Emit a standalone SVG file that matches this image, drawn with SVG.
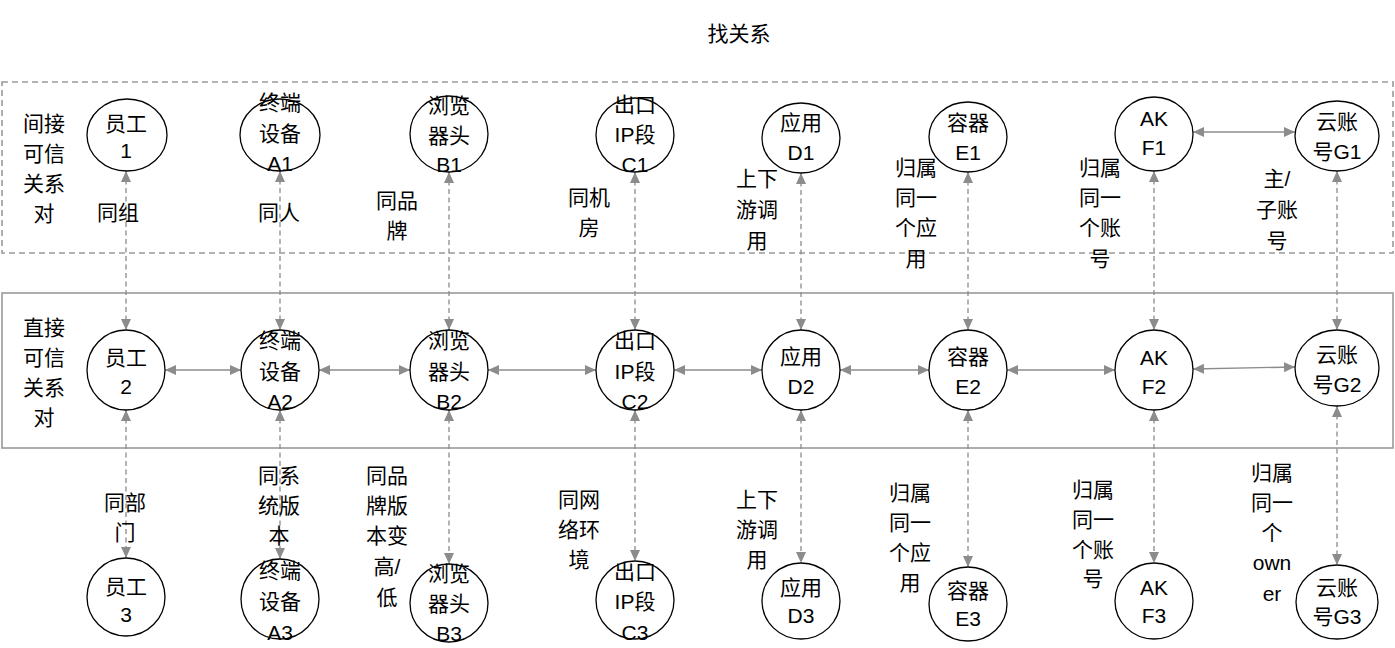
<svg xmlns="http://www.w3.org/2000/svg" width="1395" height="648" viewBox="0 0 1395 648">
<style>
text{font-family:"Liberation Sans","Noto Sans CJK SC",sans-serif;font-size:21px;fill:#000;text-anchor:middle;dominant-baseline:central}
.node ellipse{fill:#fff;stroke:#000;stroke-width:1.3}
.frame{fill:none;stroke:#9a9a9a;stroke-width:1.6}
.dash{stroke-dasharray:6 4}
.c{fill:none;stroke:#8c8c8c;stroke-width:1.3}
.v{stroke-dasharray:5 3.5}
</style>
<defs>
<marker id="ah" markerUnits="userSpaceOnUse" markerWidth="12" markerHeight="10" refX="11" refY="5" orient="auto-start-reverse">
<path d="M0,0 L11,5 L0,10 z" fill="#8c8c8c"/>
</marker>
</defs>
<rect width="1395" height="648" fill="#fff"/>
<text x="739" y="33">找关系</text>
<g id="frames">
<rect class="frame dash" x="2" y="82" width="1391" height="171"/>
<rect class="frame" x="2" y="293" width="1391" height="155"/>
</g>
<g id="group-labels">
<text x="44" y="123">间接</text><text x="44" y="153">可信</text><text x="44" y="183">关系</text><text x="44" y="213">对</text>
<text x="44" y="327">直接</text><text x="44" y="357">可信</text><text x="44" y="387">关系</text><text x="44" y="417">对</text>
</g>
<g id="connectors">
<g class="c v" marker-start="url(#ah)" marker-end="url(#ah)">
<line x1="126" y1="171" x2="126" y2="330"/>
<line x1="280" y1="171" x2="280" y2="330"/>
<line x1="449" y1="172" x2="449" y2="330"/>
<line x1="635" y1="172" x2="635" y2="330"/>
<line x1="801" y1="173" x2="801" y2="330"/>
<line x1="968" y1="172" x2="968" y2="330"/>
<line x1="1154" y1="171" x2="1154" y2="330"/>
<line x1="1337" y1="171" x2="1337" y2="330"/>
<line x1="126" y1="410" x2="126" y2="558"/>
<line x1="280" y1="410" x2="280" y2="559"/>
<line x1="449" y1="410" x2="449" y2="564"/>
<line x1="635" y1="410" x2="635" y2="561"/>
<line x1="801" y1="410" x2="801" y2="563"/>
<line x1="968" y1="410" x2="968" y2="567"/>
<line x1="1154" y1="410" x2="1154" y2="563"/>
<line x1="1337" y1="406" x2="1337" y2="565"/>
</g>
<g class="c" marker-start="url(#ah)" marker-end="url(#ah)">
<line x1="165" y1="370" x2="241" y2="370"/>
<line x1="319" y1="370" x2="410" y2="370"/>
<line x1="488" y1="370" x2="596" y2="370"/>
<line x1="674" y1="370" x2="762" y2="370"/>
<line x1="840" y1="370" x2="929" y2="370"/>
<line x1="1007" y1="370" x2="1115" y2="370"/>
<line x1="1193" y1="369" x2="1295" y2="367"/>
<line x1="1193" y1="132" x2="1295" y2="132"/>
</g>
</g>
<g id="edge-labels">
<text x="118" y="212">同组</text>
<text x="279" y="212">同人</text>
<text x="397" y="200">同品</text><text x="397" y="230">牌</text>
<text x="589" y="197">同机</text><text x="589" y="227">房</text>
<text x="757" y="178">上下</text><text x="757" y="209">游调</text><text x="757" y="240">用</text>
<text x="916" y="167">归属</text><text x="916" y="197">同一</text><text x="916" y="227">个应</text><text x="916" y="258">用</text>
<text x="1100" y="167">归属</text><text x="1100" y="197">同一</text><text x="1100" y="227">个账</text><text x="1100" y="258">号</text>
<text x="1277" y="178">主/</text><text x="1277" y="209">子账</text><text x="1277" y="240">号</text>
<text x="125" y="502">同部</text><text x="125" y="532">门</text>
<text x="279" y="475">同系</text><text x="279" y="505">统版</text><text x="279" y="535">本</text>
<text x="387" y="475">同品</text><text x="387" y="505">牌版</text><text x="387" y="535">本变</text><text x="387" y="566">高/</text><text x="387" y="597">低</text>
<text x="579" y="499">同网</text><text x="579" y="529">络环</text><text x="579" y="559">境</text>
<text x="757" y="499">上下</text><text x="757" y="529">游调</text><text x="757" y="559">用</text>
<text x="910" y="492">归属</text><text x="910" y="522">同一</text><text x="910" y="552">个应</text><text x="910" y="582">用</text>
<text x="1093" y="489">归属</text><text x="1093" y="519">同一</text><text x="1093" y="549">个账</text><text x="1093" y="578">号</text>
<text x="1272" y="472">归属</text><text x="1272" y="502">同一</text><text x="1272" y="532">个</text><text x="1272" y="562">own</text><text x="1272" y="593">er</text>
</g>
<g id="n-yg1" class="node"><ellipse cx="127" cy="135" rx="40" ry="36"/><text x="126" y="123">员工</text><text x="126" y="150">1</text></g>
<g id="n-a1" class="node"><ellipse cx="280" cy="135" rx="40" ry="36"/><text x="280" y="102">终端</text><text x="280" y="133">设备</text><text x="280" y="163">A1</text></g>
<g id="n-b1" class="node"><ellipse cx="449" cy="134" rx="39" ry="38"/><text x="449" y="105">浏览</text><text x="449" y="135">器头</text><text x="449" y="164">B1</text></g>
<g id="n-c1" class="node"><ellipse cx="635" cy="135" rx="39" ry="37"/><text x="635" y="104">出口</text><text x="635" y="134">IP段</text><text x="635" y="164">C1</text></g>
<g id="n-d1" class="node"><ellipse cx="801" cy="138" rx="39" ry="35"/><text x="801" y="122">应用</text><text x="801" y="152">D1</text></g>
<g id="n-e1" class="node"><ellipse cx="968" cy="137" rx="39" ry="35"/><text x="968" y="122">容器</text><text x="968" y="152">E1</text></g>
<g id="n-f1" class="node"><ellipse cx="1154" cy="134" rx="39" ry="37"/><text x="1154" y="118">AK</text><text x="1154" y="147">F1</text></g>
<g id="n-g1" class="node"><ellipse cx="1337" cy="136" rx="42" ry="35"/><text x="1337" y="121">云账</text><text x="1337" y="151">号G1</text></g>
<g id="n-yg2" class="node"><ellipse cx="126" cy="370" rx="39" ry="40"/><text x="126" y="357">员工</text><text x="126" y="386">2</text></g>
<g id="n-a2" class="node"><ellipse cx="280" cy="370" rx="39" ry="40"/><text x="280" y="340">终端</text><text x="280" y="371">设备</text><text x="280" y="401">A2</text></g>
<g id="n-b2" class="node"><ellipse cx="449" cy="370" rx="39" ry="40"/><text x="449" y="340">浏览</text><text x="449" y="371">器头</text><text x="449" y="401">B2</text></g>
<g id="n-c2" class="node"><ellipse cx="635" cy="370" rx="39" ry="40"/><text x="635" y="340">出口</text><text x="635" y="371">IP段</text><text x="635" y="401">C2</text></g>
<g id="n-d2" class="node"><ellipse cx="801" cy="370" rx="39" ry="40"/><text x="801" y="356">应用</text><text x="801" y="386">D2</text></g>
<g id="n-e2" class="node"><ellipse cx="968" cy="370" rx="39" ry="40"/><text x="968" y="356">容器</text><text x="968" y="386">E2</text></g>
<g id="n-f2" class="node"><ellipse cx="1154" cy="370" rx="39" ry="40"/><text x="1154" y="357">AK</text><text x="1154" y="386">F2</text></g>
<g id="n-g2" class="node"><ellipse cx="1337" cy="368" rx="42" ry="38"/><text x="1337" y="354">云账</text><text x="1337" y="384">号G2</text></g>
<g id="n-yg3" class="node"><ellipse cx="126" cy="597" rx="39" ry="39"/><text x="126" y="586">员工</text><text x="126" y="614">3</text></g>
<g id="n-a3" class="node"><ellipse cx="280" cy="599" rx="39" ry="40"/><text x="280" y="570">终端</text><text x="280" y="601">设备</text><text x="280" y="632">A3</text></g>
<g id="n-b3" class="node"><ellipse cx="449" cy="603" rx="39" ry="39"/><text x="449" y="573">浏览</text><text x="449" y="603">器头</text><text x="449" y="633">B3</text></g>
<g id="n-c3" class="node"><ellipse cx="635" cy="600" rx="39" ry="39"/><text x="635" y="571">出口</text><text x="635" y="601">IP段</text><text x="635" y="632">C3</text></g>
<g id="n-d3" class="node"><ellipse cx="801" cy="601" rx="39" ry="38"/><text x="801" y="587">应用</text><text x="801" y="615">D3</text></g>
<g id="n-e3" class="node"><ellipse cx="968" cy="604" rx="39" ry="37"/><text x="968" y="590">容器</text><text x="968" y="618">E3</text></g>
<g id="n-f3" class="node"><ellipse cx="1154" cy="601" rx="39" ry="38"/><text x="1154" y="587">AK</text><text x="1154" y="615">F3</text></g>
<g id="n-g3" class="node"><ellipse cx="1337" cy="602" rx="41" ry="37"/><text x="1337" y="587">云账</text><text x="1337" y="616">号G3</text></g>
</svg>
